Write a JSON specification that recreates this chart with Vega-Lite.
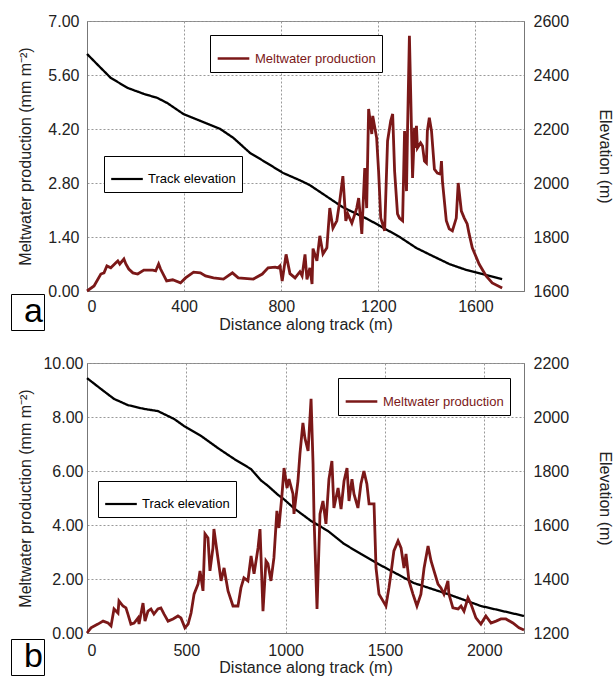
{
  "$schema": "https://vega.github.io/schema/vega-lite/v6.json",
  "padding": {"left": 10, "top": 12, "right": 0, "bottom": 0},
  "config": {
    "font": "Liberation Sans",
    "view": {"stroke": "#888", "strokeWidth": 1},
    "axis": {"labelFont": "Liberation Sans", "labelFontSize": 16, "labelColor": "#222", "titleFont": "Liberation Sans", "titleFontSize": 16, "titleFontWeight": "normal", "titleColor": "#222", "domainColor": "#777", "ticks": false, "gridColor": "#999", "gridDash": [2, 2], "gridWidth": 1},
    "legend": {"labelFont": "Liberation Sans"}
  },
  "datasets": {
    "melt_a": [
      {"d":0,"v":0},{"d":29,"v":0.13},{"d":57,"v":0.44},{"d":70,"v":0.47},{"d":82,"v":0.65},{"d":98,"v":0.6},{"d":119,"v":0.73},{"d":127,"v":0.78},{"d":135,"v":0.7},{"d":152,"v":0.83},{"d":160,"v":0.7},{"d":172,"v":0.57},{"d":189,"v":0.47},{"d":209,"v":0.44},{"d":234,"v":0.54},{"d":271,"v":0.54},{"d":283,"v":0.52},{"d":295,"v":0.7},{"d":303,"v":0.57},{"d":328,"v":0.26},{"d":353,"v":0.29},{"d":385,"v":0.21},{"d":406,"v":0.34},{"d":439,"v":0.49},{"d":467,"v":0.47},{"d":488,"v":0.39},{"d":521,"v":0.34},{"d":562,"v":0.31},{"d":599,"v":0.47},{"d":623,"v":0.34},{"d":685,"v":0.31},{"d":722,"v":0.44},{"d":746,"v":0.6},{"d":775,"v":0.62},{"d":787,"v":0.6},{"d":795,"v":0.65},{"d":804,"v":0.26},{"d":820,"v":0.95},{"d":836,"v":0.45},{"d":857,"v":0.34},{"d":877,"v":0.5},{"d":886,"v":0.39},{"d":898,"v":0.95},{"d":906,"v":0.3},{"d":918,"v":0.6},{"d":927,"v":0.18},{"d":931,"v":1.1},{"d":947,"v":0.78},{"d":959,"v":1.43},{"d":972,"v":0.96},{"d":988,"v":1.12},{"d":1000,"v":2.15},{"d":1013,"v":1.63},{"d":1029,"v":1.82},{"d":1041,"v":2.33},{"d":1054,"v":2.98},{"d":1066,"v":1.82},{"d":1074,"v":2.0},{"d":1091,"v":1.76},{"d":1111,"v":2.15},{"d":1119,"v":2.41},{"d":1132,"v":1.48},{"d":1144,"v":3.19},{"d":1152,"v":2.15},{"d":1160,"v":4.72},{"d":1173,"v":4.07},{"d":1177,"v":4.54},{"d":1193,"v":3.97},{"d":1201,"v":3.11},{"d":1210,"v":1.89},{"d":1226,"v":1.56},{"d":1238,"v":3.89},{"d":1251,"v":4.41},{"d":1259,"v":4.59},{"d":1267,"v":3.11},{"d":1279,"v":2.0},{"d":1287,"v":1.89},{"d":1300,"v":1.82},{"d":1308,"v":4.15},{"d":1316,"v":2.59},{"d":1320,"v":4.07},{"d":1328,"v":6.62},{"d":1341,"v":2.93},{"d":1349,"v":4.23},{"d":1353,"v":3.71},{"d":1357,"v":4.28},{"d":1361,"v":3.71},{"d":1374,"v":3.84},{"d":1382,"v":3.76},{"d":1390,"v":3.37},{"d":1398,"v":3.32},{"d":1402,"v":4.15},{"d":1410,"v":4.49},{"d":1419,"v":4.15},{"d":1431,"v":3.16},{"d":1443,"v":3.06},{"d":1456,"v":3.03},{"d":1460,"v":3.37},{"d":1464,"v":2.85},{"d":1480,"v":1.82},{"d":1492,"v":1.61},{"d":1505,"v":1.56},{"d":1521,"v":1.89},{"d":1529,"v":2.8},{"d":1542,"v":2.07},{"d":1554,"v":1.89},{"d":1566,"v":1.74},{"d":1574,"v":1.48},{"d":1587,"v":1.12},{"d":1615,"v":0.7},{"d":1644,"v":0.39},{"d":1669,"v":0.21},{"d":1710,"v":0.08}
    ],
    "elev_a": [
      {"d":0,"v":2478},{"d":57,"v":2426},{"d":98,"v":2389},{"d":168,"v":2352},{"d":234,"v":2330},{"d":290,"v":2315},{"d":331,"v":2296},{"d":398,"v":2255},{"d":467,"v":2230},{"d":549,"v":2200},{"d":603,"v":2167},{"d":672,"v":2111},{"d":741,"v":2074},{"d":808,"v":2037},{"d":877,"v":2010},{"d":918,"v":1992},{"d":1054,"v":1910},{"d":1152,"v":1868},{"d":1193,"v":1848},{"d":1288,"v":1800},{"d":1357,"v":1759},{"d":1423,"v":1730},{"d":1492,"v":1700},{"d":1562,"v":1678},{"d":1628,"v":1663},{"d":1710,"v":1644}
    ],
    "melt_b": [
      {"d":0,"v":0},{"d":20,"v":0.19},{"d":55,"v":0.33},{"d":81,"v":0.44},{"d":106,"v":0.37},{"d":121,"v":0.26},{"d":136,"v":0.89},{"d":156,"v":0.74},{"d":161,"v":1.19},{"d":181,"v":1.0},{"d":196,"v":0.93},{"d":206,"v":0.7},{"d":221,"v":0.33},{"d":237,"v":0.37},{"d":257,"v":0.56},{"d":262,"v":0.33},{"d":282,"v":1.11},{"d":292,"v":0.44},{"d":307,"v":0.81},{"d":322,"v":0.89},{"d":337,"v":0.7},{"d":357,"v":0.89},{"d":372,"v":0.93},{"d":388,"v":0.7},{"d":408,"v":0.44},{"d":433,"v":0.52},{"d":458,"v":0.63},{"d":473,"v":0.56},{"d":493,"v":0.19},{"d":509,"v":0.33},{"d":524,"v":0.74},{"d":539,"v":1.44},{"d":559,"v":1.81},{"d":569,"v":2.3},{"d":584,"v":1.56},{"d":594,"v":3.67},{"d":609,"v":3.52},{"d":619,"v":2.3},{"d":634,"v":3.15},{"d":639,"v":3.85},{"d":659,"v":2.78},{"d":675,"v":1.93},{"d":690,"v":2.41},{"d":710,"v":1.56},{"d":735,"v":1.0},{"d":760,"v":1.0},{"d":775,"v":1.67},{"d":790,"v":2.04},{"d":810,"v":1.93},{"d":826,"v":2.85},{"d":841,"v":2.19},{"d":861,"v":3.15},{"d":871,"v":3.85},{"d":886,"v":0.81},{"d":901,"v":2.67},{"d":911,"v":2.56},{"d":926,"v":1.93},{"d":941,"v":2.78},{"d":956,"v":4.52},{"d":966,"v":3.89},{"d":982,"v":5.15},{"d":992,"v":6.11},{"d":1007,"v":5.37},{"d":1017,"v":5.7},{"d":1037,"v":5.15},{"d":1042,"v":4.41},{"d":1062,"v":5.63},{"d":1072,"v":6.63},{"d":1087,"v":7.78},{"d":1097,"v":7.22},{"d":1113,"v":6.74},{"d":1128,"v":8.67},{"d":1138,"v":6.26},{"d":1143,"v":4.26},{"d":1158,"v":0.89},{"d":1173,"v":4.41},{"d":1188,"v":4.89},{"d":1203,"v":4.04},{"d":1218,"v":5.7},{"d":1233,"v":6.37},{"d":1243,"v":4.63},{"d":1264,"v":5.37},{"d":1279,"v":4.59},{"d":1294,"v":5.63},{"d":1309,"v":6.11},{"d":1319,"v":4.89},{"d":1334,"v":5.7},{"d":1344,"v":5.15},{"d":1364,"v":4.63},{"d":1379,"v":5.52},{"d":1394,"v":6.0},{"d":1409,"v":5.52},{"d":1420,"v":4.78},{"d":1445,"v":4.78},{"d":1455,"v":2.41},{"d":1470,"v":1.44},{"d":1490,"v":1.19},{"d":1505,"v":1.0},{"d":1520,"v":1.67},{"d":1530,"v":2.19},{"d":1545,"v":3.04},{"d":1566,"v":3.41},{"d":1581,"v":3.15},{"d":1596,"v":2.41},{"d":1606,"v":2.93},{"d":1621,"v":1.93},{"d":1641,"v":1.44},{"d":1661,"v":1.0},{"d":1681,"v":1.44},{"d":1697,"v":2.41},{"d":1717,"v":3.22},{"d":1732,"v":2.67},{"d":1747,"v":2.3},{"d":1767,"v":1.81},{"d":1782,"v":1.67},{"d":1797,"v":1.44},{"d":1817,"v":1.93},{"d":1822,"v":1.44},{"d":1842,"v":0.93},{"d":1868,"v":0.89},{"d":1883,"v":1.0},{"d":1898,"v":0.81},{"d":1918,"v":1.3},{"d":1933,"v":1.07},{"d":1958,"v":0.56},{"d":1983,"v":0.33},{"d":2008,"v":0.63},{"d":2034,"v":0.37},{"d":2059,"v":0.44},{"d":2084,"v":0.52},{"d":2109,"v":0.52},{"d":2144,"v":0.37},{"d":2175,"v":0.19},{"d":2200,"v":0.11}
    ],
    "elev_b": [
      {"d":0,"v":2144},{"d":70,"v":2104},{"d":136,"v":2067},{"d":206,"v":2044},{"d":287,"v":2030},{"d":357,"v":2022},{"d":438,"v":1993},{"d":488,"v":1967},{"d":574,"v":1930},{"d":659,"v":1885},{"d":740,"v":1845},{"d":826,"v":1807},{"d":876,"v":1765},{"d":911,"v":1745},{"d":961,"v":1712},{"d":992,"v":1695},{"d":1042,"v":1662},{"d":1128,"v":1615},{"d":1213,"v":1578},{"d":1294,"v":1530},{"d":1379,"v":1493},{"d":1465,"v":1456},{"d":1545,"v":1425},{"d":1646,"v":1385},{"d":1817,"v":1344},{"d":1983,"v":1300},{"d":2200,"v":1263}
    ]
  },
  "spacing": 72,
  "bounds": "flush",
  "resolve": {"scale": {"strokeDash": "independent", "color": "independent"}, "legend": {"strokeDash": "independent", "color": "independent"}},
  "vconcat": [
    {
      "width": 437,
      "height": 270,
      "layer": [
        {
          "data": {"name": "elev_a"},
          "mark": {"type": "line", "strokeWidth": 2.3},
          "encoding": {
            "x": {"field": "d", "type": "quantitative", "scale": {"domain": [0, 1800], "nice": false},
                  "axis": {"values": [0, 400, 800, 1200, 1600], "format": "d", "grid": true, "title": "Distance along track (m)", "labelPadding": 7, "titleY": 25}},
            "y": {"field": "v", "type": "quantitative", "scale": {"domain": [1600, 2600], "nice": false},
                  "axis": {"orient": "right", "values": [1600, 1800, 2000, 2200, 2400, 2600], "format": "d", "grid": false, "title": "Elevation (m)", "labelPadding": 9, "titleX": 72, "titleY": 135, "titleAngle": 90, "titleBaseline": "bottom"}},
            "color": {"datum": "Track elevation", "type": "nominal", "scale": {"range": ["black"]},
                      "legend": {"orient": "none", "legendX": 17, "legendY": 135, "title": null, "strokeColor": "black", "fillColor": "white", "padding": 6, "symbolType": "stroke", "symbolSize": 1000, "symbolStrokeWidth": 2.2, "labelFontSize": 13, "labelOffset": 4, "labelColor": "black"}},
            "strokeDash": {"datum": "a", "type": "nominal", "scale": {"range": [[1, 0]]},
                           "legend": {"orient": "none", "legendX": -76, "legendY": 273, "title": null, "strokeColor": "black", "fillColor": "white", "padding": 1, "symbolType": "circle", "symbolSize": 0, "symbolStrokeWidth": 0, "symbolOpacity": 0, "labelFontSize": 34, "labelOffset": -22, "labelColor": "black"}}
          }
        },
        {
          "data": {"name": "melt_a"},
          "mark": {"type": "line", "strokeWidth": 2.8},
          "encoding": {
            "x": {"field": "d", "type": "quantitative"},
            "y": {"field": "v", "type": "quantitative", "scale": {"domain": [0, 7], "nice": false},
                  "axis": {"orient": "left", "values": [0, 1.4, 2.8, 4.2, 5.6, 7], "format": ".2f", "grid": true, "title": "Meltwater production (mm m⁻²)", "labelPadding": 8, "titleX": -54, "titleY": 135}},
            "color": {"datum": "Meltwater production", "type": "nominal", "scale": {"range": ["#7B1818"]},
                      "legend": {"orient": "none", "legendX": 123, "legendY": 14, "title": null, "strokeColor": "black", "fillColor": "white", "padding": 6, "symbolType": "stroke", "symbolSize": 1000, "symbolStrokeWidth": 2.6, "labelFontSize": 13, "labelOffset": 4, "labelColor": "#7B1818"}}
          }
        }
      ],
      "resolve": {"scale": {"y": "independent", "color": "independent"}}
    },
    {
      "width": 437,
      "height": 270,
      "layer": [
        {
          "data": {"name": "elev_b"},
          "mark": {"type": "line", "strokeWidth": 2.3},
          "encoding": {
            "x": {"field": "d", "type": "quantitative", "scale": {"domain": [0, 2200], "nice": false},
                  "axis": {"values": [0, 500, 1000, 1500, 2000], "format": "d", "grid": true, "title": "Distance along track (m)", "labelPadding": 9, "titleY": 26}},
            "y": {"field": "v", "type": "quantitative", "scale": {"domain": [1200, 2200], "nice": false},
                  "axis": {"orient": "right", "values": [1200, 1400, 1600, 1800, 2000, 2200], "format": "d", "grid": false, "title": "Elevation (m)", "labelPadding": 9, "titleX": 72, "titleY": 135, "titleAngle": 90, "titleBaseline": "bottom"}},
            "color": {"datum": "Track elevation", "type": "nominal", "scale": {"range": ["black"]},
                      "legend": {"orient": "none", "legendX": 11, "legendY": 118, "title": null, "strokeColor": "black", "fillColor": "white", "padding": 6, "symbolType": "stroke", "symbolSize": 1000, "symbolStrokeWidth": 2.2, "labelFontSize": 13, "labelOffset": 4, "labelColor": "black"}},
            "strokeDash": {"datum": "b", "type": "nominal", "scale": {"range": [[1, 0]]},
                           "legend": {"orient": "none", "legendX": -76, "legendY": 276, "title": null, "strokeColor": "black", "fillColor": "white", "padding": 1, "symbolType": "circle", "symbolSize": 0, "symbolStrokeWidth": 0, "symbolOpacity": 0, "labelFontSize": 34, "labelOffset": -22, "labelColor": "black"}}
          }
        },
        {
          "data": {"name": "melt_b"},
          "mark": {"type": "line", "strokeWidth": 2.8},
          "encoding": {
            "x": {"field": "d", "type": "quantitative"},
            "y": {"field": "v", "type": "quantitative", "scale": {"domain": [0, 10], "nice": false},
                  "axis": {"orient": "left", "values": [0, 2, 4, 6, 8, 10], "format": ".2f", "grid": true, "title": "Meltwater production (mm m⁻²)", "labelPadding": 4, "titleX": -54, "titleY": 135}},
            "color": {"datum": "Meltwater production", "type": "nominal", "scale": {"range": ["#7B1818"]},
                      "legend": {"orient": "none", "legendX": 251, "legendY": 15, "title": null, "strokeColor": "black", "fillColor": "white", "padding": 6, "symbolType": "stroke", "symbolSize": 1000, "symbolStrokeWidth": 2.6, "labelFontSize": 13, "labelOffset": 4, "labelColor": "#7B1818"}}
          }
        }
      ],
      "resolve": {"scale": {"y": "independent", "color": "independent"}}
    }
  ]
}
